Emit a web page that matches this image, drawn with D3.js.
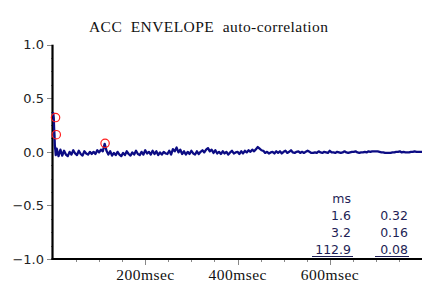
<!DOCTYPE html>
<html>
<head>
<meta charset="utf-8">
<script src="https://cdn.jsdelivr.net/npm/d3@7"></script>
<style>
  body { margin: 0; background: #fff; }
  svg { display: block; }
</style>
</head>
<body>
<div id="chart"></div>
<script>
const width = 422, height = 282;
const margin = ({top: 44.7, right: 0, bottom: 23, left: 53});

const title = "ACC  ENVELOPE  auto-correlation";
const yTicks = [-1.0, -0.5, 0.0, 0.5, 1.0];
const xTicks = [200, 400, 600];

// first few ms read at finer resolution: [ms, value]
const acfHead = [[0, 0.37], [0.8, 0.35], [1.6, 0.32], [2.4, 0.22], [3.2, 0.16], [4, 0.06], [5, 0.02], [6, -0.03]];
// then one value every 4 ms from 8 ms to 800 ms
const acfStartMs = 8, acfStepMs = 4;
const acfValues = [
  0.03, -0.04, 0.02, -0.035, 0.01, -0.025, -0.04, 0.0, -0.025, 0.015,
  -0.015, -0.03, 0.01, -0.02, -0.035, 0.005, -0.015, -0.025, 0.0, -0.02,
  0.0, -0.02, 0.015, -0.005, 0.02, 0.005, 0.075, 0.01, -0.025, 0.005,
  -0.035, -0.01, -0.03, 0.0, -0.025, -0.04, -0.01, -0.03, 0.005, -0.02,
  -0.035, -0.005, -0.025, 0.01, -0.02, -0.03, 0.0, -0.025, 0.015, -0.015,
  0.0, -0.025, 0.01, -0.02, 0.005, -0.03, -0.005, -0.025, 0.0, -0.015,
  -0.02, 0.01, -0.025, 0.025, 0.005, 0.04, -0.005, 0.02, -0.02, 0.005,
  -0.025, 0.0, -0.02, 0.01, -0.015, -0.025, 0.005, -0.02, 0.0, 0.015,
  -0.005, 0.02, 0.035, 0.005, 0.02, -0.01, 0.015, -0.015, 0.0, -0.02,
  0.005, -0.015, 0.0, -0.025, -0.005, 0.01, -0.015, -0.005, 0.0, -0.02,
  0.005, -0.015, 0.01, -0.005, 0.015, 0.0, 0.02, 0.005, 0.025, 0.045,
  0.03, 0.015, 0.01, -0.01, 0.0, -0.015, -0.005, 0.0, -0.015, 0.005,
  -0.01, 0.005, -0.015, 0.0, 0.01, -0.01, 0.0, 0.015, -0.005, -0.01,
  0.0, 0.005, -0.01, 0.0, -0.01, 0.0, 0.01, 0.0, -0.01, -0.01,
  -0.005, -0.01, 0.005, -0.005, -0.01, 0.0, -0.005, -0.01, 0.01, -0.005,
  -0.005, -0.01, 0.0, -0.005, -0.01, -0.005, 0.005, -0.005, -0.01, -0.005,
  0.0, 0.0, 0.005, -0.005, -0.01, -0.005, -0.005, 0.0, -0.005, 0.005,
  0.0, 0.005, 0.005, 0.005, 0.005, 0.0, -0.005, -0.005, -0.01, -0.01,
  -0.01, -0.01, -0.005, -0.005, 0.0, 0.0, 0.005, -0.005, 0.0, -0.005,
  -0.005, -0.005, 0.0, 0.0, 0.005, 0.0, 0.0, 0.0, 0.0
];

// picked peaks
const peakMs = [1.6, 3.2, 112.9];
const peakVal = [0.32, 0.16, 0.08];
const peakMsLabels = ["1.6", "3.2", "112.9"];
const peakValLabels = ["0.32", "0.16", "0.08"];

const acfData = acfHead.concat(acfValues.map((v, i) => [acfStartMs + i * acfStepMs, v]));

const svg = d3.select("#chart").append("svg")
  .attr("width", width).attr("height", height);

const x = d3.scaleLinear().domain([0, 800]).range([margin.left, width - margin.right]);
const y = d3.scaleLinear().domain([-1, 1]).range([height - margin.bottom, margin.top]);

// title
svg.append("text")
  .attr("x", 89).attr("y", 32)
  .attr("textLength", 239).attr("lengthAdjust", "spacing")
  .style("white-space", "pre")
  .style("font-family", "'Liberation Serif', serif").style("font-size", "15.5px")
  .style("fill", "#111")
  .text(title);

// y axis: minor ticks every 0.125
const yMinor = d3.range(-1, 1.0001, 0.125);
svg.append("g").selectAll("line").data(yMinor).join("line")
  .attr("x1", d => (Math.abs(d * 2 - Math.round(d * 2)) < 1e-6) ? margin.left - 6 : margin.left - 2)
  .attr("x2", margin.left)
  .attr("y1", d => Math.round(y(d)) + 0.5).attr("y2", d => Math.round(y(d)) + 0.5)
  .attr("stroke", "#888").attr("stroke-width", 1);

svg.append("g").selectAll("text").data(yTicks).join("text")
  .attr("x", 44).attr("y", d => y(d)).attr("dy", "0.36em")
  .attr("text-anchor", "end")
  .style("font-family", "'DejaVu Sans', sans-serif").style("font-size", "13px")
  .style("fill", "#222")
  .text(d => d3.format(".1f")(d).replace("-", "\u2212"));

// x axis: minor ticks every 50 ms
const xMinor = d3.range(50, 800, 50);
svg.append("g").selectAll("line").data(xMinor).join("line")
  .attr("x1", d => Math.round(x(d)) + 0.5).attr("x2", d => Math.round(x(d)) + 0.5)
  .attr("y1", y(-1))
  .attr("y2", d => y(-1) + (xTicks.includes(d) ? 6 : 3))
  .attr("stroke", "#888").attr("stroke-width", 1);

svg.append("g").selectAll("text").data(xTicks).join("text")
  .attr("x", d => x(d) - 29).attr("y", 280)
  .attr("textLength", 58).attr("lengthAdjust", "spacing")
  .style("font-family", "'Liberation Serif', serif").style("font-size", "15.5px")
  .style("fill", "#111")
  .text(d => d + "msec");

// axis lines
svg.append("line")
  .attr("x1", margin.left - 0.5).attr("x2", margin.left - 0.5)
  .attr("y1", y(1)).attr("y2", y(-1) + 1)
  .attr("stroke", "#000").attr("stroke-width", 2.2);
svg.append("line")
  .attr("x1", margin.left - 1.5).attr("x2", width)
  .attr("y1", y(-1)).attr("y2", y(-1))
  .attr("stroke", "#000").attr("stroke-width", 2.2);

// auto-correlation trace
const line = d3.line().x(d => x(d[0])).y(d => y(d[1]));
svg.append("path")
  .datum(acfData)
  .attr("d", line)
  .attr("fill", "none")
  .attr("stroke", "#0c0c84").attr("stroke-width", 2.3)
  .attr("stroke-linejoin", "round");

// peak markers
svg.append("g").selectAll("circle").data(peakMs).join("circle")
  .attr("cx", (d, i) => x(d) + (i < 2 ? 1.8 : 0)).attr("cy", (d, i) => y(peakVal[i]))
  .attr("r", 4.2)
  .attr("fill", "none").attr("stroke", "#ff2020").attr("stroke-width", 1.2);

// peak table
const tbl = svg.append("g")
  .style("font-family", "'DejaVu Sans', sans-serif").style("font-size", "12.5px")
  .style("fill", "#1e1e55");
tbl.append("text").attr("x", 351).attr("y", 203).attr("text-anchor", "end").text("ms");
const rowY = [220, 237, 254];
tbl.selectAll("text.ms").data(peakMsLabels).join("text").attr("class", "ms")
  .attr("x", 351).attr("y", (d, i) => rowY[i]).attr("text-anchor", "end").text(d => d);
tbl.selectAll("text.val").data(peakValLabels).join("text").attr("class", "val")
  .attr("x", 408).attr("y", (d, i) => rowY[i]).attr("text-anchor", "end").text(d => d);
// underline on last row
[[312, 353], [375, 409]].forEach(s => {
  tbl.append("line").attr("x1", s[0]).attr("x2", s[1]).attr("y1", 256.5).attr("y2", 256.5)
    .attr("stroke", "#1e1e55").attr("stroke-width", 1);
});
</script>
</body>
</html>
